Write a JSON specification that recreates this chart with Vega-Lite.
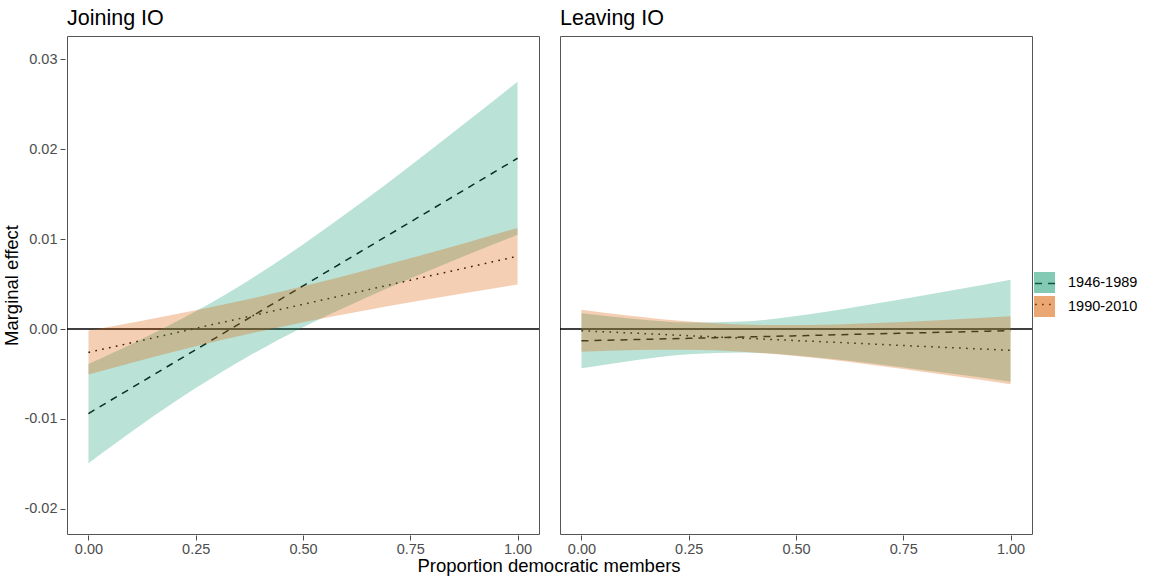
{
  "$schema": "https://vega.github.io/schema/vega-lite/v6.json",
  "padding": {"left": 2, "top": 7, "right": 5, "bottom": 0},
  "background": "white",
  "data": {"values": [
    {"panel": "Joining IO", "period": "1946-1989", "x": 0, "est": -0.0094, "lo": -0.01492, "hi": -0.00389},
    {"panel": "Joining IO", "period": "1946-1989", "x": 0.125, "est": -0.00585, "lo": -0.01059, "hi": -0.00111},
    {"panel": "Joining IO", "period": "1946-1989", "x": 0.25, "est": -0.0023, "lo": -0.00657, "hi": 0.00197},
    {"panel": "Joining IO", "period": "1946-1989", "x": 0.375, "est": 0.00125, "lo": -0.00297, "hi": 0.00547},
    {"panel": "Joining IO", "period": "1946-1989", "x": 0.5, "est": 0.0048, "lo": 0.0002, "hi": 0.0094},
    {"panel": "Joining IO", "period": "1946-1989", "x": 0.625, "est": 0.00835, "lo": 0.00302, "hi": 0.01368},
    {"panel": "Joining IO", "period": "1946-1989", "x": 0.75, "est": 0.0119, "lo": 0.00563, "hi": 0.01817},
    {"panel": "Joining IO", "period": "1946-1989", "x": 0.875, "est": 0.01545, "lo": 0.0081, "hi": 0.0228},
    {"panel": "Joining IO", "period": "1946-1989", "x": 1, "est": 0.019, "lo": 0.01048, "hi": 0.02752},
    {"panel": "Joining IO", "period": "1990-2010", "x": 0, "est": -0.0026, "lo": -0.00505, "hi": -0.00015},
    {"panel": "Joining IO", "period": "1990-2010", "x": 0.125, "est": -0.00126, "lo": -0.00344, "hi": 0.00092},
    {"panel": "Joining IO", "period": "1990-2010", "x": 0.25, "est": 0.00008, "lo": -0.00192, "hi": 0.00208},
    {"panel": "Joining IO", "period": "1990-2010", "x": 0.375, "est": 0.00141, "lo": -0.00053, "hi": 0.00335},
    {"panel": "Joining IO", "period": "1990-2010", "x": 0.5, "est": 0.00275, "lo": 0.00075, "hi": 0.00475},
    {"panel": "Joining IO", "period": "1990-2010", "x": 0.625, "est": 0.00409, "lo": 0.00191, "hi": 0.00627},
    {"panel": "Joining IO", "period": "1990-2010", "x": 0.75, "est": 0.00543, "lo": 0.00299, "hi": 0.00787},
    {"panel": "Joining IO", "period": "1990-2010", "x": 0.875, "est": 0.00676, "lo": 0.00399, "hi": 0.00953},
    {"panel": "Joining IO", "period": "1990-2010", "x": 1, "est": 0.0081, "lo": 0.00495, "hi": 0.01125},
    {"panel": "Leaving IO", "period": "1946-1989", "x": 0, "est": -0.00131, "lo": -0.00437, "hi": 0.00175},
    {"panel": "Leaving IO", "period": "1946-1989", "x": 0.125, "est": -0.00117, "lo": -0.00346, "hi": 0.00112},
    {"panel": "Leaving IO", "period": "1946-1989", "x": 0.25, "est": -0.00103, "lo": -0.00279, "hi": 0.00073},
    {"panel": "Leaving IO", "period": "1946-1989", "x": 0.375, "est": -0.00089, "lo": -0.00261, "hi": 0.00083},
    {"panel": "Leaving IO", "period": "1946-1989", "x": 0.5, "est": -0.00075, "lo": -0.00294, "hi": 0.00144},
    {"panel": "Leaving IO", "period": "1946-1989", "x": 0.625, "est": -0.0006, "lo": -0.00354, "hi": 0.00234},
    {"panel": "Leaving IO", "period": "1946-1989", "x": 0.75, "est": -0.00046, "lo": -0.00427, "hi": 0.00335},
    {"panel": "Leaving IO", "period": "1946-1989", "x": 0.875, "est": -0.00032, "lo": -0.00504, "hi": 0.0044},
    {"panel": "Leaving IO", "period": "1946-1989", "x": 1, "est": -0.00018, "lo": -0.00585, "hi": 0.00549},
    {"panel": "Leaving IO", "period": "1990-2010", "x": 0, "est": -0.00019, "lo": -0.00253, "hi": 0.00215},
    {"panel": "Leaving IO", "period": "1990-2010", "x": 0.125, "est": -0.00046, "lo": -0.00234, "hi": 0.00142},
    {"panel": "Leaving IO", "period": "1990-2010", "x": 0.25, "est": -0.00074, "lo": -0.00231, "hi": 0.00083},
    {"panel": "Leaving IO", "period": "1990-2010", "x": 0.375, "est": -0.00101, "lo": -0.00252, "hi": 0.0005},
    {"panel": "Leaving IO", "period": "1990-2010", "x": 0.5, "est": -0.00128, "lo": -0.003, "hi": 0.00044},
    {"panel": "Leaving IO", "period": "1990-2010", "x": 0.625, "est": -0.00155, "lo": -0.00367, "hi": 0.00057},
    {"panel": "Leaving IO", "period": "1990-2010", "x": 0.75, "est": -0.00183, "lo": -0.00445, "hi": 0.00079},
    {"panel": "Leaving IO", "period": "1990-2010", "x": 0.875, "est": -0.0021, "lo": -0.00529, "hi": 0.00109},
    {"panel": "Leaving IO", "period": "1990-2010", "x": 1, "est": -0.00237, "lo": -0.00615, "hi": 0.00141}
  ]},
  "facet": {
    "column": {
      "field": "panel",
      "type": "nominal",
      "title": "Proportion democratic members",
      "header": {
        "labelOrient": "top",
        "labelAnchor": "start",
        "labelFontSize": 21.5,
        "labelColor": "black",
        "labelPadding": 6,
        "titleOrient": "bottom",
        "titleFontSize": 18.5,
        "titleFontWeight": "normal",
        "titleColor": "black",
        "titlePadding": -9
      }
    }
  },
  "spacing": 17,
  "spec": {
    "width": 472,
    "height": 498,
    "layer": [
      {
        "transform": [{"aggregate": [{"op": "count", "as": "n"}], "groupby": ["panel"]}],
        "mark": {"type": "rule", "color": "black", "strokeWidth": 1.6},
        "encoding": {"y": {"datum": 0, "type": "quantitative"}}
      },
      {
        "mark": {"type": "line", "color": "black", "strokeWidth": 1.5, "strokeCap": "butt", "interpolate": "monotone"},
        "encoding": {
          "x": {"field": "x", "type": "quantitative"},
          "y": {"field": "est", "type": "quantitative"},
          "detail": {"field": "period"},
          "strokeDash": {
            "field": "period", "type": "nominal", "title": null,
            "scale": {"range": [[7, 6], [1.7, 5.3]]},
            "legend": {
              "orient": "none", "legendX": 967, "legendY": 236,
              "symbolType": "stroke", "symbolSize": 441,
              "symbolStrokeColor": "black", "symbolStrokeWidth": 1.5,
              "labelOpacity": 0, "symbolFillColor": "transparent"
            }
          }
        }
      },
      {
        "mark": {"type": "area", "opacity": 0.3, "interpolate": "monotone"},
        "encoding": {
          "x": {
            "field": "x", "type": "quantitative",
            "scale": {"domain": [-0.05, 1.05], "nice": false, "zero": false},
            "axis": {"title": null, "values": [0, 0.25, 0.5, 0.75, 1], "format": ".2f", "grid": false, "domain": false, "labelPadding": 2}
          },
          "y": {
            "field": "hi", "type": "quantitative",
            "scale": {"domain": [-0.0228, 0.0326], "nice": false, "zero": false},
            "axis": {
              "title": "Marginal effect", "values": [-0.02, -0.01, 0, 0.01, 0.02, 0.03], "format": ".2f",
              "labelExpr": "replace(datum.label, '\u2212', '-')",
              "grid": false, "domain": false, "titlePadding": 2
            }
          },
          "y2": {"field": "lo"},
          "fill": {
            "field": "period", "type": "nominal", "title": null,
            "scale": {"domain": ["1946-1989", "1990-2010"], "range": ["#1b9e77", "#d95f02"]},
            "legend": {
              "orient": "none", "legendX": 967, "legendY": 236,
              "symbolType": "square", "symbolSize": 441,
              "symbolStrokeWidth": 0, "symbolOpacity": 0.55
            }
          }
        }
      }
    ]
  },
  "config": {
    "font": "Liberation Sans",
    "view": {"stroke": "#555555", "strokeWidth": 1},
    "axis": {
      "labelFontSize": 14.5,
      "labelColor": "#4d4d4d",
      "tickColor": "#4d4d4d",
      "tickSize": 5,
      "labelPadding": 3,
      "titleFontSize": 18.5,
      "titleFontWeight": "normal",
      "titleColor": "black",
      "titlePadding": 4
    },
    "legend": {
      "labelFontSize": 14.5,
      "labelColor": "black",
      "labelOffset": 13,
      "rowPadding": 3,
      "padding": 0
    }
  }
}
